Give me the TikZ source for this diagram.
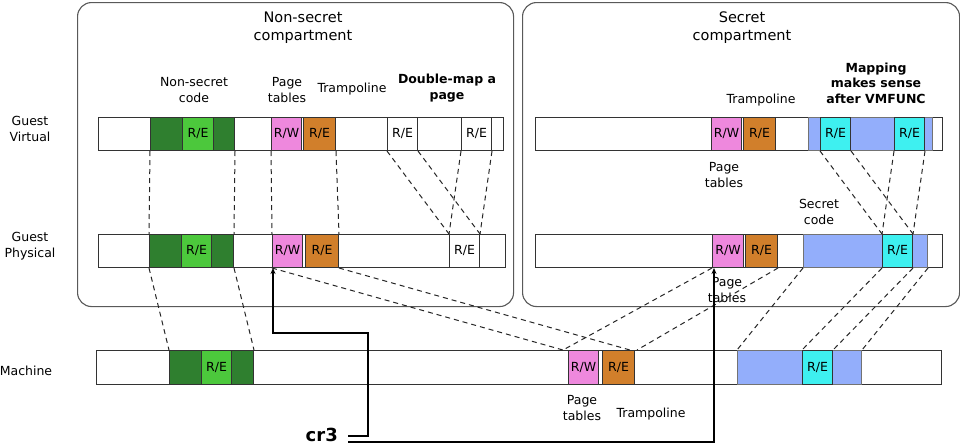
\documentclass[tikz,border=0pt]{standalone}
\usepackage{fontspec}
\setmainfont{DejaVu Sans}
\usetikzlibrary{arrows.meta}
\definecolor{dkgreen}{HTML}{2F7F2F}
\definecolor{ltgreen}{HTML}{4CC83C}
\definecolor{ptpink}{HTML}{EE88DD}
\definecolor{trorange}{HTML}{D17F2B}
\definecolor{secblue}{HTML}{93AEFB}
\definecolor{seccyan}{HTML}{3EF0F0}
\newcommand\lblfont{\fontsize{12.5}{15.5}\selectfont}
\newcommand\ttlfont{\fontsize{14.5}{18}\selectfont}
\begin{document}
\begin{tikzpicture}[x=1pt,y=-1pt,
 bar/.style={draw=black!80, fill=white, line width=1pt, inner sep=0pt, minimum height=33pt, anchor=north west},
 seg/.style={bar, font=\lblfont},
 lbl/.style={font=\lblfont, align=center, inner sep=0pt},
 blbl/.style={font=\lblfont\bfseries, align=center, inner sep=0pt},
 ttl/.style={font=\ttlfont, align=center, inner sep=0pt},
 compart/.style={draw=black!65, line width=1.1pt, rounded corners=14pt, inner sep=0pt, anchor=north west},
 map/.style={draw=black!85, line width=1pt, dash pattern=on 5pt off 4pt},
 ptr/.style={draw=black, line width=1.8pt, -{Stealth[length=6pt,width=5pt]}}
]
\useasboundingbox[fill=white] (0,0) rectangle (960,445);

% compartments
\node[compart, minimum width=436pt, minimum height=304pt] (nonsec) at (77,2) {};
\node[compart, minimum width=437pt, minimum height=304pt] (sec) at (522,2) {};
\node[ttl] (nonsecT) at (303,28) {Non-secret\\compartment};
\node[ttl] (secT) at (742,28) {Secret\\compartment};

% row labels
\node[lbl] (lgv) at (30,129) {Guest\\Virtual};
\node[lbl] (lgp) at (30,246) {Guest\\Physical};
\node[lbl] (lm) at (26,371) {Machine};

% ---------- left guest virtual
\node[bar, minimum width=405pt] (gvL) at (98,117) {};
\node[seg, fill=dkgreen, minimum width=84pt] (gvLdg) at (150,117) {};
\node[seg, fill=ltgreen, minimum width=31pt] (gvLlg) at (182,117) {R/E};
\node[seg, fill=ptpink, minimum width=30pt] (gvLpt) at (271,117) {R/W};
\node[seg, fill=trorange, minimum width=32pt] (gvLtr) at (303,117) {R/E};
\node[seg, minimum width=30pt] (gvLa) at (387,117) {R/E};
\node[seg, minimum width=30pt] (gvLb) at (461,117) {R/E};

% ---------- left guest physical
\node[bar, minimum width=407pt] (gpL) at (98,234) {};
\node[seg, fill=dkgreen, minimum width=84pt] (gpLdg) at (149,234) {};
\node[seg, fill=ltgreen, minimum width=30pt] (gpLlg) at (181,234) {R/E};
\node[seg, fill=ptpink, minimum width=30pt] (gpLpt) at (272,234) {R/W};
\node[seg, fill=trorange, minimum width=33pt] (gpLtr) at (305,234) {R/E};
\node[seg, minimum width=30pt] (gpLr) at (449,234) {R/E};

% ---------- right guest virtual
\node[bar, minimum width=407pt] (gvR) at (535,117) {};
\node[seg, fill=ptpink, minimum width=30pt] (gvRpt) at (711,117) {R/W};
\node[seg, fill=trorange, minimum width=32pt] (gvRtr) at (743,117) {R/E};
\node[seg, fill=secblue, draw=black!55, minimum width=124pt] (gvRbl) at (808,117) {};
\node[seg, fill=seccyan, minimum width=30pt] (gvRca) at (820,117) {R/E};
\node[seg, fill=seccyan, minimum width=30pt] (gvRcb) at (894,117) {R/E};

% ---------- right guest physical
\node[bar, minimum width=407pt] (gpR) at (535,234) {};
\node[seg, fill=ptpink, minimum width=31pt] (gpRpt) at (712,234) {R/W};
\node[seg, fill=trorange, minimum width=32pt] (gpRtr) at (745,234) {R/E};
\node[seg, fill=secblue, draw=black!55, minimum width=124pt] (gpRbl) at (803,234) {};
\node[seg, fill=seccyan, minimum width=30pt] (gpRc) at (882,234) {R/E};

% ---------- machine
\node[bar, minimum width=845pt, minimum height=34pt] (m) at (96,350) {};
\node[seg, fill=dkgreen, minimum width=84pt, minimum height=34pt] (mdg) at (169,350) {};
\node[seg, fill=ltgreen, minimum width=30pt, minimum height=34pt] (mlg) at (201,350) {R/E};
\node[seg, fill=ptpink, minimum width=30pt, minimum height=34pt] (mpt) at (568,350) {R/W};
\node[seg, fill=trorange, minimum width=32pt, minimum height=34pt] (mtr) at (602,350) {R/E};
\node[seg, fill=secblue, draw=black!55, minimum width=124pt, minimum height=34pt] (mbl) at (737,350) {};
\node[seg, fill=seccyan, minimum width=30pt, minimum height=34pt] (mc) at (802,350) {R/E};

% ---------- labels
\node[lbl] (tNsc) at (194,90) {Non-secret\\code};
\node[lbl] (tPt1) at (287,90) {Page\\tables};
\node[lbl] (tTr1) at (352,89) {Trampoline};
\node[blbl] (tDbl) at (447,88) {Double-map a\\page};
\node[lbl] (tTr2) at (761,100) {Trampoline};
\node[blbl] (tMap) at (876,83) {Mapping\\makes sense\\after VMFUNC};
\node[lbl] (tPt2) at (724,175) {Page\\tables};
\node[lbl] (tSc) at (819,212) {Secret\\code};
\node[lbl] (tPt3) at (727,290) {Page\\tables};
\node[lbl] (tPt4) at (582,408) {Page\\tables};
\node[lbl] (tTr3) at (651,414) {Trampoline};

% ---------- mappings GV -> GP (left)
\draw[map] (gvLdg.south west) -- (gpLdg.north west);
\draw[map] (gvLdg.south east) -- (gpLdg.north east);
\draw[map] (gvLpt.south west) -- (gpLpt.north west);
\draw[map] (gvLtr.south east) -- (gpLtr.north east);
\draw[map] (gvLa.south west) -- (gpLr.north west);
\draw[map] (gvLa.south east) -- (gpLr.north east);
\draw[map] (gvLb.south west) -- (gpLr.north west);
\draw[map] (gvLb.south east) -- (gpLr.north east);

% ---------- mappings GV -> GP (right)
\draw[map] (gvRca.south west) -- (gpRc.north west);
\draw[map] (gvRca.south east) -- (gpRc.north east);
\draw[map] (gvRcb.south west) -- (gpRc.north west);
\draw[map] (gvRcb.south east) -- (gpRc.north east);

% ---------- mappings GP -> machine
\draw[map] (gpLdg.south west) -- (mdg.north west);
\draw[map] (gpLdg.south east) -- (mdg.north east);
\draw[map] (gpLpt.south west) -- ([xshift=-5pt]mpt.north west);
\draw[map] (gpLtr.south east) -- ([xshift=-5pt]mtr.north east);
\draw[map] (gpRpt.south west) -- ([xshift=-5pt]mpt.north west);
\draw[map] (gpRtr.south east) -- ([xshift=2pt]mtr.north east);
\draw[map] (gpRbl.south west) -- (mbl.north west);
\draw[map] (gpRc.south west) -- (mc.north west);
\draw[map] (gpRc.south east) -- (mc.north east);
\draw[map] (gpRbl.south east) -- (mbl.north east);

% ---------- cr3
\node[font=\fontsize{18}{20}\selectfont\bfseries, inner sep=0pt, anchor=base east] (cr3) at (338,441) {cr3};
\coordinate (c1) at (348,436);
\coordinate (c2) at (348,442);
\draw[ptr] (c1) -| (368,333) -| ([xshift=1pt]gpLpt.south west);
\draw[ptr] (c2) -| ([xshift=2pt]gpRpt.south west);
\end{tikzpicture}
\end{document}
